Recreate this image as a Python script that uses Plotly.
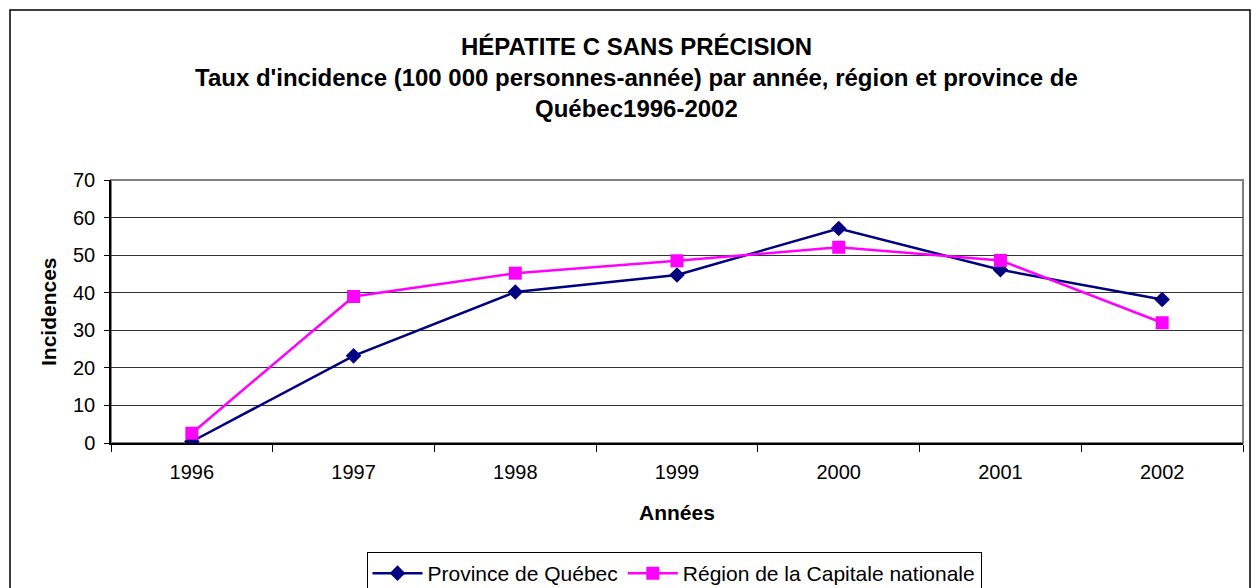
import plotly.graph_objects as go

years = ["1996", "1997", "1998", "1999", "2000", "2001", "2002"]
province = [0.4, 23.2, 40.2, 44.7, 57.1, 46.1, 38.2]
region = [2.6, 39.0, 45.2, 48.5, 52.1, 48.6, 32.0]
y_ticks = [0, 10, 20, 30, 40, 50, 60, 70]

title_lines = [
    "HÉPATITE C SANS PRÉCISION",
    "Taux d'incidence (100 000 personnes-année) par année, région et province de",
    "Québec1996-2002",
]

W, H = 1252, 588
L, R, T, B = 111, 1243, 180, 443
pw, ph = R - L, B - T

def px_x(p):
    return (p - L) / pw

def px_y(p):
    return (B - p) / ph

FONT = "Liberation Sans, Arial, sans-serif"

fig = go.Figure()
fig.add_trace(go.Scatter(
    x=years, y=province, name="Province de Québec", mode="lines+markers",
    line=dict(color="#000080", width=2.5),
    marker=dict(symbol="diamond", size=12, color="#000080"),
))
fig.add_trace(go.Scatter(
    x=years, y=region, name="Région de la Capitale nationale", mode="lines+markers",
    line=dict(color="#FF00FF", width=2.5),
    marker=dict(symbol="square", size=13, color="#FF00FF"),
))

annotations = []
for txt, yp in zip(title_lines, [46, 77, 108]):
    annotations.append(dict(
        text="<b>" + txt + "</b>", xref="paper", yref="paper",
        x=px_x(636), y=px_y(yp), xanchor="center", yanchor="middle",
        showarrow=False, font=dict(size=24, color="black", family=FONT),
    ))
annotations.append(dict(
    text="<b>Années</b>", xref="paper", yref="paper", x=px_x(677), y=px_y(512),
    xanchor="center", yanchor="middle", showarrow=False,
    font=dict(size=21, color="black", family=FONT),
))
annotations.append(dict(
    text="<b>Incidences</b>", xref="paper", yref="paper", x=px_x(48), y=px_y(312),
    xanchor="center", yanchor="middle", showarrow=False, textangle=-90,
    font=dict(size=21, color="black", family=FONT),
))

shapes = [
    dict(type="rect", xref="paper", yref="paper", x0=0, x1=1, y0=0, y1=1,
         line=dict(color="#808080", width=2), layer="below"),
    dict(type="rect", xref="paper", yref="paper", x0=px_x(10), x1=px_x(1250),
         y0=px_y(620), y1=px_y(10), line=dict(color="black", width=1.5), layer="below"),
]

fig.update_layout(
    width=W, height=H,
    margin=dict(l=L, r=W - R, t=T, b=H - B, pad=0, autoexpand=False),
    paper_bgcolor="white", plot_bgcolor="white",
    font=dict(family=FONT, size=20, color="black"),
    showlegend=True,
    legend=dict(
        orientation="h", x=px_x(674), y=px_y(552), xanchor="center", yanchor="top",
        bordercolor="black", borderwidth=1, bgcolor="white",
        font=dict(size=21, family=FONT, color="black"),
        itemwidth=50, tracegroupgap=0,
    ),
    annotations=annotations,
    shapes=shapes,
)
fig.update_xaxes(
    type="category", range=[-0.5, 6.5], tickson="boundaries",
    ticks="outside", ticklen=7, tickcolor="black", tickwidth=1,
    showgrid=False, showline=True, linecolor="black", linewidth=1.5,
    tickfont=dict(size=20, family=FONT), ticklabelstandoff=10,
)
fig.update_yaxes(
    range=[0, 70], tickvals=y_ticks, ticks="outside", ticklen=5,
    tickcolor="black", showgrid=True, gridcolor="#333333", gridwidth=1,
    showline=True, linecolor="black", linewidth=1.5, zeroline=False,
    tickfont=dict(size=20, family=FONT), ticklabelstandoff=5,
)

fig.write_html("out.html", config={"displayModeBar": False},
               post_script="document.body.style.margin='0px';")
